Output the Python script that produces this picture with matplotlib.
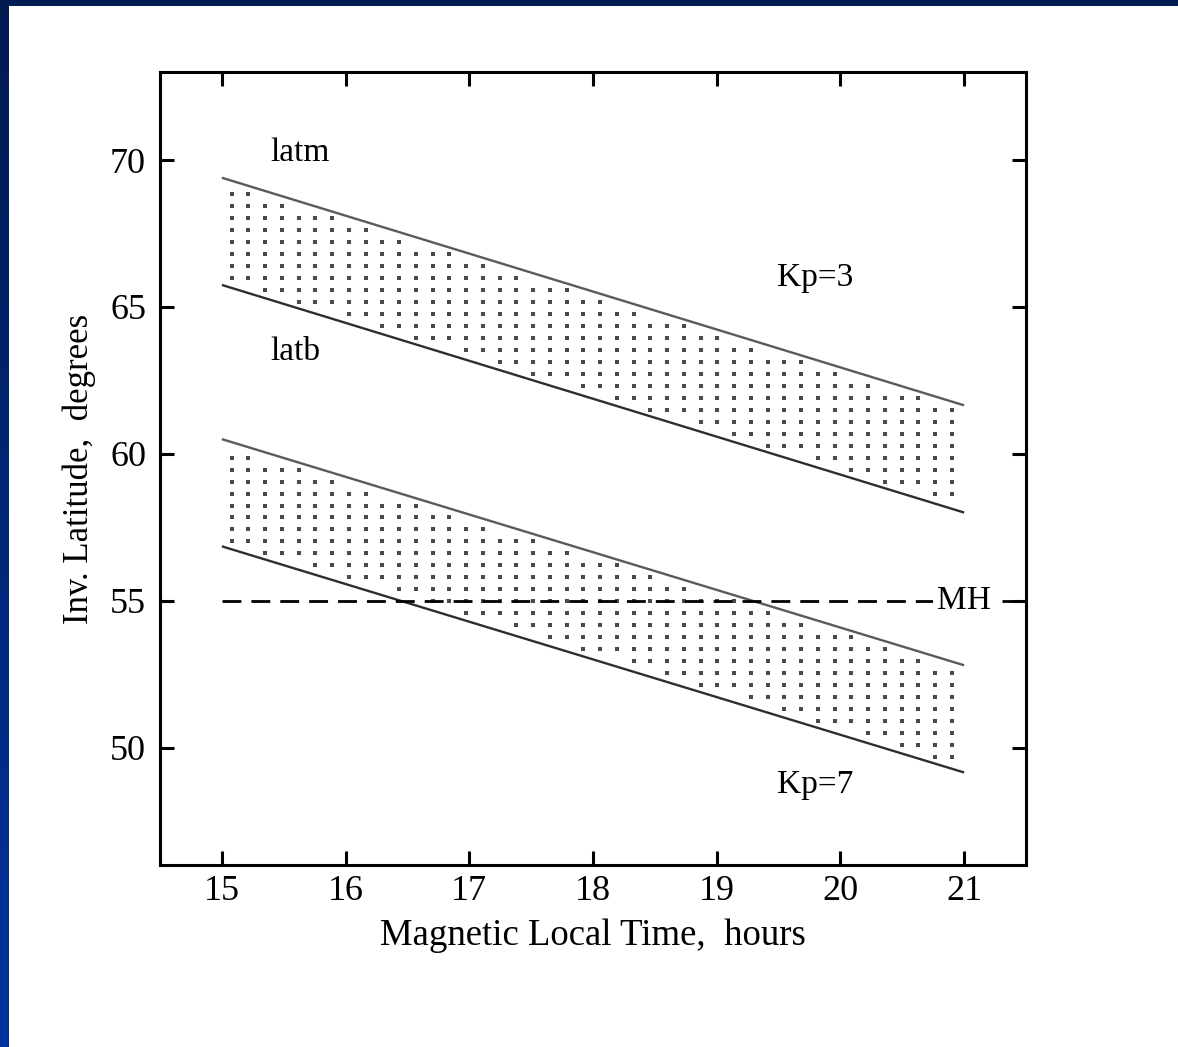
import numpy as np
import matplotlib
matplotlib.use("Agg")
import matplotlib.pyplot as plt
from matplotlib.colors import LinearSegmentedColormap

# Auroral oval boundaries vs magnetic local time (hours), inv. latitude (deg)
mlt_ends = [15.0, 21.0]
kp3_latm = [69.4, 61.65]
kp3_latb = [65.75, 58.0]
kp7_latm = [60.5, 52.8]
kp7_latb = [56.85, 49.15]
mh_lat = 55.0

x_ticks = [15, 16, 17, 18, 19, 20, 21]
y_ticks = [50, 55, 60, 65, 70]

plt.rcParams["font.family"] = ["Liberation Serif", "DejaVu Serif"]

W, H = 1178, 1047
fig = plt.figure(figsize=(W / 100, H / 100), dpi=100)
fig.patch.set_facecolor("white")

# slide frame: dark top strip and blue gradient on the left edge
top = fig.add_axes([0, 1 - 6 / H, 1, 6 / H])
top.set_axis_off()
top.add_patch(plt.Rectangle((0, 0), 1, 1, transform=top.transAxes, color="#001c54"))
left = fig.add_axes([0, 0, 8.7 / W, 1])
grad = np.linspace(0, 1, 256).reshape(-1, 1)
cmap = LinearSegmentedColormap.from_list("edge", ["#001a50", "#00349e"])
left.imshow(grad, aspect="auto", cmap=cmap, origin="upper", extent=[0, 1, 0, 1])
left.set_axis_off()

ax = fig.add_axes([160 / W, (H - 865) / H, (1026 - 160) / W, (865 - 72) / H])
ax.set_xlim(14.5, 21.5)
ax.set_ylim(46, 73)


def band(upper, lower):
    ax.plot(mlt_ends, upper, color="#5a5a5a", lw=1.7, solid_capstyle="butt")
    ax.plot(mlt_ends, lower, color="#2e2e2e", lw=1.7, solid_capstyle="butt")
    # dotted fill pattern between the two boundaries
    xs = np.arange(15.078, 20.95, 0.1354)
    ys = np.arange(46.0, 73.0, 0.408)
    gx, gy = np.meshgrid(xs, ys)
    up = np.interp(gx, mlt_ends, upper)
    lo = np.interp(gx, mlt_ends, lower)
    m = (gy < up - 0.2) & (gy > lo + 0.2)
    ax.scatter(gx[m], gy[m], s=5.5, marker="s", color="#4a4a4a",
               linewidths=0, zorder=2)


band(kp3_latm, kp3_latb)
band(kp7_latm, kp7_latb)

ax.plot([15.0, 21.5], [mh_lat, mh_lat], color="black", lw=2.0,
        dashes=(6.8, 3.6), zorder=3)
ax.text(21.0, mh_lat, "MH", fontsize=24, ha="center", va="center",
        zorder=4, bbox=dict(facecolor="white", edgecolor="none", pad=3))

ax.text(15.39, 70.24, "latm", fontsize=24, ha="left", va="center")
ax.text(15.39, 63.47, "latb", fontsize=24, ha="left", va="center")
ax.text(19.49, 65.99, "Kp=3", fontsize=24, ha="left", va="center")
ax.text(19.49, 48.74, "Kp=7", fontsize=24, ha="left", va="center")

ax.set_xticks(x_ticks)
ax.set_yticks(y_ticks)
ax.tick_params(direction="in", length=10, width=2.2, top=True, right=True,
               labelsize=26)
ax.tick_params(axis="x", pad=7)
ax.tick_params(axis="y", pad=10)
for s in ax.spines.values():
    s.set_linewidth(2.2)

ax.set_xlabel("Magnetic Local Time,  hours", fontsize=26.5, labelpad=8)
ax.set_ylabel("Inv. Latitude,  degrees", fontsize=25, labelpad=10)

fig.savefig("out.png", dpi=100, facecolor="white")
